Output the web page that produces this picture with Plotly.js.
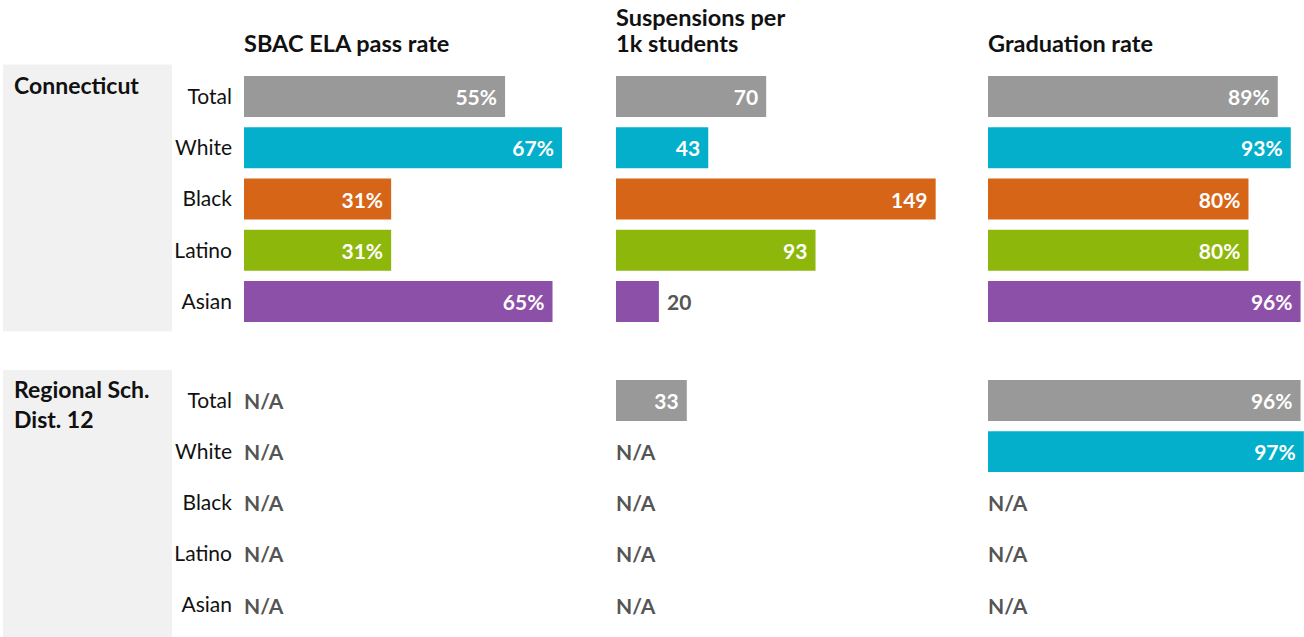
<!DOCTYPE html>
<html>
<head>
<meta charset="utf-8">
<script src="https://cdn.plot.ly/plotly-3.0.1.min.js"></script>
<style>
html,body{margin:0;padding:0;background:#fff;}
#chart{width:1304px;height:637px;}
</style>
</head>
<body>
<div id="chart"></div>
<script>
// ---- data ----
var categories = ['Total', 'White', 'Black', 'Latino', 'Asian'];
var groups = ['Connecticut', 'Regional Sch.<br>Dist. 12'];
var metrics = [['SBAC ELA pass rate'], ['Suspensions per', '1k students'], ['Graduation rate']];
var metricSuffix = ['%', '', '%'];

var ctSbac = [55, 67, 31, 31, 65];
var ctSusp = [70, 43, 149, 93, 20];
var ctGrad = [89, 93, 80, 80, 96];

var rsdSbac = [null, null, null, null, null];
var rsdSusp = [33, null, null, null, null];
var rsdGrad = [96, 97, null, null, null];

var barColors = ['#999999', '#03afca', '#d76518', '#8db70b', '#8d50a8'];

// ---- layout geometry (pixels in a 1304x637 canvas) ----
var W = 1304, H = 637;
var FONT = 'Lato, "Source Sans Pro", "Noto Sans", sans-serif';
var colStart = [244, 616, 988];
var colEnd = [600, 970, 1304];
var colRange = [75.0, 165.0, 97.05];
var rowTop = [70.9, 374.9];
var rowBottom = [327.1, 630.6];

function px(x) { return x / W; }
function py(y) { return 1 - y / H; }

var data = [];
var layout = {
  width: W, height: H,
  margin: {l: 0, r: 0, t: 0, b: 0},
  paper_bgcolor: '#ffffff',
  plot_bgcolor: 'rgba(0,0,0,0)',
  showlegend: false,
  bargap: 0.2,
  font: {family: FONT, color: '#222'},
  shapes: [],
  annotations: []
};

var table = [[ctSbac, ctSusp, ctGrad], [rsdSbac, rsdSusp, rsdGrad]];

for (var r = 0; r < 2; r++) {
  // gray group panel
  layout.shapes.push({
    type: 'rect', xref: 'paper', yref: 'paper', layer: 'below',
    x0: px(3), x1: px(172),
    y0: py(r === 0 ? 331.5 : 637), y1: py(r === 0 ? 64.5 : 370),
    fillcolor: '#f1f1f1', line: {width: 0}
  });
  layout.annotations.push({
    xref: 'paper', yref: 'paper', x: px(12), y: py(r === 0 ? 69 : 373),
    xanchor: 'left', yanchor: 'top', align: 'left', showarrow: false,
    text: '<b>' + groups[r] + '</b>',
    font: {family: FONT, size: 23, color: '#111'}
  });
  for (var c = 0; c < 3; c++) {
    var idx = r * 3 + c + 1;
    var xa = 'x' + (idx === 1 ? '' : idx);
    var ya = 'y' + (idx === 1 ? '' : idx);
    var vals = table[r][c];
    var suf = metricSuffix[c];
    var pxPerUnit = (colEnd[c] - colStart[c]) / colRange[c];
    var xs = [], ys = [], cols = [], texts = [], pos = [];
    for (var i = 0; i < categories.length; i++) {
      if (vals[i] === null) {
        layout.annotations.push({
          xref: xa, yref: ya, x: 0, y: categories[i],
          xanchor: 'left', yanchor: 'middle', showarrow: false, xshift: -2,
          text: '<b>N/A</b>',
          font: {family: FONT, size: 21, color: '#555555'}
        });
      } else {
        xs.push(vals[i]); ys.push(categories[i]); cols.push(barColors[i]);
        var inside = vals[i] * pxPerUnit > 60;
        texts.push(inside ? vals[i] + suf + '\u00a0' : '\u00a0' + vals[i] + suf);
        pos.push(inside ? 'inside' : 'outside');
      }
    }
    if (xs.length) {
      data.push({
        type: 'bar', orientation: 'h', x: xs, y: ys,
        xaxis: xa, yaxis: ya,
        marker: {color: cols, line: {width: 0}},
        text: texts, texttemplate: '%{text}', textposition: pos,
        insidetextanchor: 'end', textangle: 0, constraintext: 'none',
        cliponaxis: false,
        insidetextfont: {family: FONT, size: 21, color: '#ffffff', weight: 700},
        outsidetextfont: {family: FONT, size: 21, color: '#555555', weight: 700},
        hoverinfo: 'skip'
      });
    }
    layout['xaxis' + (idx === 1 ? '' : idx)] = {
      domain: [px(colStart[c]), px(colEnd[c])],
      range: [0, colRange[c]], anchor: ya,
      showgrid: false, zeroline: false, showticklabels: false, showline: false, fixedrange: true
    };
    layout['yaxis' + (idx === 1 ? '' : idx)] = {
      domain: [py(rowBottom[r]), py(rowTop[r])],
      type: 'category', categoryorder: 'array', categoryarray: categories,
      range: [4.5, -0.5], anchor: xa,
      showgrid: false, zeroline: false, showline: false, fixedrange: true,
      showticklabels: c === 0, ticks: '',
      ticklabelstandoff: 11,
      tickfont: {family: FONT, size: 21, color: '#111'}
    };
  }
}

// column titles (lines stacked from the bottom)
for (var c2 = 0; c2 < 3; c2++) {
  var lines = metrics[c2];
  for (var k = 0; k < lines.length; k++) {
    var fromBottom = lines.length - 1 - k;
    layout.annotations.push({
      xref: 'paper', yref: 'paper', x: px(colStart[c2] - 2), y: py(43 - 26 * fromBottom),
      xanchor: 'left', yanchor: 'middle', align: 'left', showarrow: false,
      text: '<b>' + lines[k] + '</b>',
      font: {family: FONT, size: 23.5, color: '#111'}
    });
  }
}

Plotly.newPlot('chart', data, layout, {displayModeBar: false, staticPlot: true});
</script>
</body>
</html>
